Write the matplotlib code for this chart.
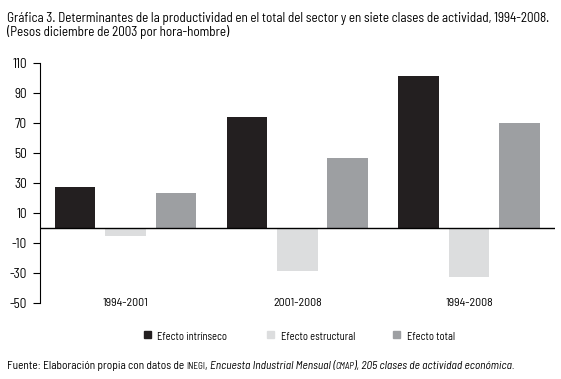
import matplotlib
matplotlib.use("Agg")
import matplotlib.pyplot as plt
import numpy as np
from matplotlib import font_manager

names = {f.name for f in font_manager.fontManager.ttflist}
FONT = next((n for n in ["Barlow Semi Condensed", "Barlow Condensed", "Roboto Condensed", "DejaVu Sans"] if n in names), "DejaVu Sans")
plt.rcParams['font.family'] = [FONT, 'DejaVu Sans']

categories = ["1994-2001", "2001-2008", "1994-2008"]
series_names = ["Efecto intrínseco", "Efecto estructural", "Efecto total"]
intrinseco = [27.7, 74.2, 101.7]
estructural = [-4.9, -28.5, -32.3]
total = [23.3, 46.9, 70.0]
yticks = [110, 90, 70, 50, 30, 10, -10, -30, -50]
colors = ["#231f20", "#dcddde", "#9d9fa2"]
title1 = "Gráfica 3. Determinantes de la productividad en el total del sector y en siete clases de actividad, 1994-2008."
title2 = "(Pesos diciembre de 2003 por hora-hombre)"
source_parts = [("Fuente: Elaboración propia con datos de ", 'normal', 1.0),
                ("INEGI", 'normal', 0.78),
                (", ", 'normal', 1.0),
                ("Encuesta Industrial Mensual", 'italic', 1.0),
                (" (", 'italic', 1.0),
                ("CMAP", 'italic', 0.78),
                ("), 205 clases de actividad económica.", 'italic', 1.0)]

W, H = 561, 379
fig = plt.figure(figsize=(W / 100, H / 100), dpi=100)
renderer = fig.canvas.get_renderer()

def fy(py):
    return 1 - py / H

def fit(t, target_w):
    w = t.get_window_extent(renderer).width
    t.set_fontsize(t.get_fontsize() * target_w / w)
    return t.get_fontsize()

ax_left, ax_right, ax_top, ax_bot = 39.5, 555, 63.3, 303.3
ax = fig.add_axes([ax_left / W, fy(ax_bot), (ax_right - ax_left) / W, (ax_bot - ax_top) / H])

x = np.arange(len(categories))
off = 0.2934
bw = 0.236
for i, (vals, c, n) in enumerate(zip([intrinseco, estructural, total], colors, series_names)):
    ax.bar(x + (i - 1) * off, vals, width=bw, color=c, label=n, zorder=2)

ax.set_xlim(-0.5, 2.5)
ax.set_ylim(-50, 110)
ax.set_xticks([])
for s in ['top', 'right', 'bottom']:
    ax.spines[s].set_visible(False)
ax.spines['left'].set_linewidth(0.8)
ax.axhline(0, color='black', lw=1.0, zorder=3)

# category labels (fit width ~45.6 px)
probe = fig.text(0, 0, categories[0], fontsize=10)
cat_fs = fit(probe, 45.6)
probe.remove()
for xi, c in zip(x, categories):
    ax.text(xi, 0, c, ha='center', va='baseline', fontsize=cat_fs,
            transform=ax.get_xaxis_transform() + matplotlib.transforms.ScaledTranslation(0, -(305.5 - ax_bot) / 100, fig.dpi_scale_trans))

probe = fig.text(0, 0, "110", fontsize=10)
tick_fs = fit(probe, 14.5)
probe.remove()
ax.set_yticks(yticks)
ax.set_yticklabels([str(t) for t in yticks], fontsize=tick_fs)
ax.tick_params(axis='y', direction='out', length=5, width=0.8, pad=4)

# legend drawn manually
probe = fig.text(0, 0, series_names[0], fontsize=10)
leg_fs = fit(probe, 70)
probe.remove()
sq_x = [144.3, 266.7, 392.7]
tx_x = [156.7, 281.0, 406.7]
for sx, tx, c, n in zip(sq_x, tx_x, colors, series_names):
    fig.patches.append(plt.Rectangle((sx / W, fy(338)), 7 / W, 7 / H, color=c, transform=fig.transFigure, figure=fig))
    fig.text(tx / W, fy(339.5), n, fontsize=leg_fs, va='baseline', ha='left')

t1 = fig.text(7 / W, fy(22.3), title1, fontsize=10, va='baseline', ha='left')
tfs = fit(t1, 545)
t2 = fig.text(7 / W, fy(36), title2, fontsize=tfs, va='baseline', ha='left')

def build_source(scale):
    arts = []
    for txt, st, f in source_parts:
        arts.append(fig.text(0, 0, txt, fontsize=10 * scale * f, style=st, va='baseline', ha='left'))
    xpx = 7.0
    for a in arts:
        a.set_position((xpx / W, fy(369.3)))
        xpx += a.get_window_extent(renderer).width
    return arts, xpx - 7.0

arts, wtot = build_source(1.0)
for a in arts:
    a.remove()
arts, wtot = build_source(508.0 / wtot)

fig.savefig("out.png", dpi=100)
